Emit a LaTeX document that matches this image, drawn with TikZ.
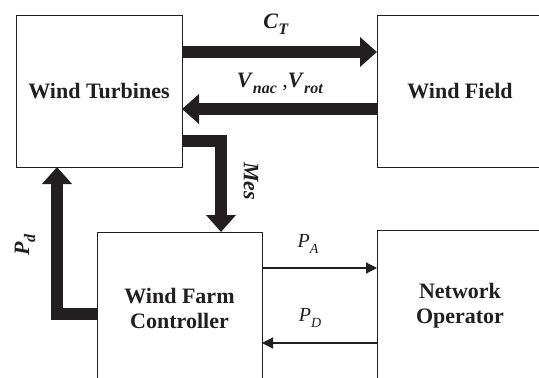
\documentclass[tikz,border=0pt]{standalone}
\usepackage{fontspec}
\setmainfont{Liberation Serif}
\usetikzlibrary{arrows.meta,calc}
\newcommand{\bsub}[2]{\textbf{\textit{#1}}\raisebox{-0.28em}{\fontsize{16}{16}\selectfont\textbf{\textit{#2}}}}
\newcommand{\isub}[2]{\textit{#1}\raisebox{-0.28em}{\fontsize{14}{14}\selectfont\textit{#2}}}
\definecolor{ink}{HTML}{231F20}
\begin{document}
\begin{tikzpicture}[x=1pt,y=-1pt,
  box/.style={draw=ink, line width=1pt, minimum width=166pt, minimum height=152pt,
    inner sep=0pt, outer sep=0pt, align=center, text=ink,
    font=\fontsize{22}{25}\selectfont\bfseries},
  bigarrow/.style={draw=ink, line width=12pt, line join=miter,
    -{Triangle[length=17pt,width=29pt]}},
  thinarrow/.style={draw=ink, line width=1.2pt, -{Triangle[length=11pt,width=11pt]}},
  mathlbl/.style={text=ink, inner sep=0pt, font=\fontsize{22}{24}\selectfont},
  plainlbl/.style={text=ink, inner sep=0pt, font=\fontsize{20}{24}\selectfont}]
\path[use as bounding box, clip] (0,0) rectangle (539,378);
\fill[white] (0,0) rectangle (539,378);
% boxes
\node[box] (wt) at (99,91) {Wind Turbines};
\node[box] (wf) at (460,91) {Wind Field};
\node[box, minimum width=165pt] (wfc) at (179.5,308) {Wind Farm\\Controller};
\node[box] (no) at (460,306) {Network\\Operator};
% helper coordinates
\coordinate (mesx) at (221,0);
\coordinate (pdx) at (57,0);
% thick arrows
\draw[bigarrow] (wt.east |- 0,52) -- (wf.west |- 0,52);
\draw[bigarrow] (wf.west |- 0,109) -- (wt.east |- 0,109);
\draw[bigarrow] (wt.east |- 0,141) -| (mesx |- wfc.north);
\draw[bigarrow] (wfc.west |- 0,314) -| (pdx |- wt.south);
% thin arrows
\draw[thinarrow] (wfc.east |- 0,268) -- (no.west |- 0,268);
\draw[thinarrow] (no.west |- 0,343) -- (wfc.east |- 0,343);
% labels
\node[mathlbl] (lct) at (276,24) {\bsub{C}{T}};
\node[mathlbl] (lv) at (280,83) {\bsub{V}{nac} ,\bsub{V}{rot}};
\node[mathlbl, rotate=-90] (lmes) at (251,181) {\textbf{\textit{Mes}}};
\node[mathlbl, rotate=90] (lpd) at (25,245) {\bsub{P}{d}};
\node[plainlbl] (lpa) at (308,244) {\isub{P}{A}};
\node[plainlbl] (lpdd) at (310,318) {\isub{P}{D}};
\end{tikzpicture}
\end{document}
